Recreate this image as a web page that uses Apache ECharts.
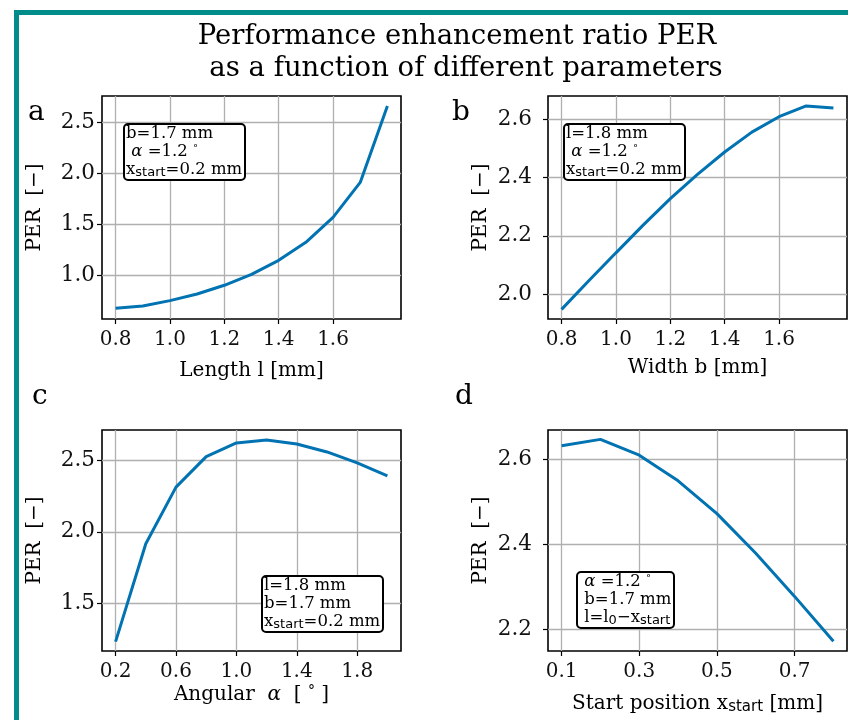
<!DOCTYPE html>
<html>
<head>
<meta charset="utf-8">
<script src="https://cdn.jsdelivr.net/npm/echarts@6/dist/echarts.min.js"></script>
<style>
html,body{margin:0;padding:0;background:#fff;}
#chart{width:848px;height:720px;}
</style>
</head>
<body>
<div id="chart"></div>
<script>
// ---- data ----
const lengthL = [0.8, 0.9, 1.0, 1.1, 1.2, 1.3, 1.4, 1.5, 1.6, 1.7, 1.8];
const perLength = [0.683, 0.705, 0.757, 0.822, 0.907, 1.014, 1.150, 1.326, 1.569, 1.910, 2.656];
const widthB = [0.8, 0.9, 1.0, 1.1, 1.2, 1.3, 1.4, 1.5, 1.6, 1.7, 1.8];
const perWidth = [1.948, 2.046, 2.142, 2.237, 2.328, 2.411, 2.488, 2.556, 2.609, 2.646, 2.639];
const angleA = [0.2, 0.4, 0.6, 0.8, 1.0, 1.2, 1.4, 1.6, 1.8, 2.0];
const perAngle = [1.230, 1.917, 2.314, 2.528, 2.624, 2.645, 2.617, 2.561, 2.484, 2.393];
const startX = [0.1, 0.2, 0.3, 0.4, 0.5, 0.6, 0.7, 0.8];
const perStart = [2.631, 2.646, 2.609, 2.549, 2.472, 2.379, 2.278, 2.173];

// ---- tick labels ----
const ticksLenX = [0.8, 1.0, 1.2, 1.4, 1.6];
const ticksLenY = [1.0, 1.5, 2.0, 2.5];
const ticksWidX = [0.8, 1.0, 1.2, 1.4, 1.6];
const ticksWidY = [2.0, 2.2, 2.4, 2.6];
const ticksAngX = [0.2, 0.6, 1.0, 1.4, 1.8];
const ticksAngY = [1.5, 2.0, 2.5];
const ticksStartX = [0.1, 0.3, 0.5, 0.7];
const ticksStartY = [2.2, 2.4, 2.6];

const LINE = '#0173b2';
const SERIF = '"DejaVu Serif", "Liberation Serif", serif';
const SANS = '"DejaVu Sans", sans-serif';

const grids = [
  {left: 102, top: 96, width: 299, height: 223},
  {left: 548, top: 96, width: 299, height: 223},
  {left: 102, top: 430, width: 299, height: 221},
  {left: 548, top: 430, width: 299, height: 221}
].map(g => Object.assign(g, {show: true, borderColor: '#000', borderWidth: 1.6, backgroundColor: 'transparent', containLabel: false, outerBoundsMode: 'none'}));

const nameRich = {
  s: {fontFamily: SANS, fontSize: 15, lineHeight: 15, verticalAlign: 'bottom', color: '#000'},
  i: {fontFamily: SERIF, fontStyle: 'italic', fontSize: 20, color: '#000'},
  d: {fontFamily: SERIF, fontSize: 14, verticalAlign: 'top', color: '#000'}
};

function xAxis(idx, min, max, ticks, name, gap) {
  return {
    type: 'value', gridIndex: idx, min: min, max: max,
    name: name, nameLocation: 'middle', nameGap: gap, nameMoveOverlap: false,
    nameTextStyle: {fontFamily: SERIF, fontSize: 20, color: '#000', lineHeight: 22, rich: nameRich},
    axisLine: {show: false},
    axisTick: {show: true, inside: false, length: 5, customValues: ticks, lineStyle: {color: '#000', width: 1.2}},
    axisLabel: {show: true, customValues: ticks, margin: 11, fontFamily: SERIF, fontSize: 20, color: '#111',
      formatter: v => Number(v).toFixed(1)},
    splitLine: {show: true, lineStyle: {color: '#b0b0b0', width: 1.3}}
  };
}
function yAxis(idx, min, max, ticks, margin) {
  return {
    type: 'value', gridIndex: idx, min: min, max: max,
    name: 'PER  [\u2212]', nameLocation: 'middle', nameRotate: 90, nameGap: 56, nameMoveOverlap: false,
    nameTextStyle: {fontFamily: SERIF, fontSize: 20, color: '#000', lineHeight: 22},
    axisLine: {show: false},
    axisTick: {show: true, inside: false, length: 5, customValues: ticks, lineStyle: {color: '#000', width: 1.2}},
    axisLabel: {show: true, customValues: ticks, margin: margin, fontFamily: SERIF, fontSize: 21.5, color: '#111',
      formatter: v => Number(v).toFixed(1)},
    splitLine: {show: true, lineStyle: {color: '#b0b0b0', width: 1.3}}
  };
}

const boxRich = {
  s: {fontFamily: SANS, fontSize: 13, lineHeight: 13, verticalAlign: 'bottom', color: '#000'},
  i: {fontFamily: SERIF, fontStyle: 'italic', fontSize: 16.5, lineHeight: 18, color: '#000'},
  d: {fontFamily: SERIF, fontSize: 10, lineHeight: 10, verticalAlign: 'top', color: '#000'},
  t: {fontFamily: SERIF, fontSize: 16.5, lineHeight: 18, color: '#000'}
};
function box(text, left, top) {
  return {
    text: text, left: left, top: top, padding: [1, 3, 1, 2],
    borderColor: '#000', borderWidth: 2, borderRadius: 4, backgroundColor: '#fff',
    textStyle: {fontFamily: SERIF, fontSize: 16.5, fontWeight: 'normal', lineHeight: 18, color: '#000', rich: boxRich}
  };
}

function mk(xs, ys) { return xs.map((x, i) => [x, ys[i]]); }

const chart = echarts.init(document.getElementById('chart'), null, {renderer: 'canvas'});
chart.setOption({
  animation: false,
  backgroundColor: '#fff',
  title: [
    box('{t|b=1.7 mm}\n{t| }{i|\u03b1}{t| =1.2 }{d|\u00b0}\n{t|x}{s|start}{t|=0.2 mm}', 124, 124),
    box('{t|l=1.8 mm}\n{t| }{i|\u03b1}{t| =1.2 }{d|\u00b0}\n{t|x}{s|start}{t|=0.2 mm}', 564, 124),
    box('{t|l=1.8 mm}\n{t|b=1.7 mm}\n{t|x}{s|start}{t|=0.2 mm}', 262, 576),
    box('{t| }{i|\u03b1}{t| =1.2 }{d|\u00b0}\n{t| b=1.7 mm}\n{t| l=l}{s|0}{t|\u2212x}{s|start}', 577, 572)
  ],
  graphic: [
    {type: 'rect', silent: true, z: 100, shape: {x: 16.5, y: 12.5, width: 1200, height: 1200},
      style: {fill: 'none', stroke: '#008c88', lineWidth: 5}},
    {type: 'text', x: 457, y: 36.5, style: {text: 'Performance enhancement ratio PER', fontFamily: SERIF, fontSize: 27.5, align: 'center', verticalAlign: 'middle', fill: '#000'}},
    {type: 'text', x: 466, y: 68.5, style: {text: 'as a function of different parameters', fontFamily: SERIF, fontSize: 27.5, align: 'center', verticalAlign: 'middle', fill: '#000'}},
    {type: 'text', x: 28, y: 113, style: {text: 'a', fontFamily: SERIF, fontSize: 28, align: 'left', verticalAlign: 'middle', fill: '#000'}},
    {type: 'text', x: 452, y: 113, style: {text: 'b', fontFamily: SERIF, fontSize: 28, align: 'left', verticalAlign: 'middle', fill: '#000'}},
    {type: 'text', x: 32, y: 397, style: {text: 'c', fontFamily: SERIF, fontSize: 28, align: 'left', verticalAlign: 'middle', fill: '#000'}},
    {type: 'text', x: 455, y: 397, style: {text: 'd', fontFamily: SERIF, fontSize: 28, align: 'left', verticalAlign: 'middle', fill: '#000'}}
  ],
  grid: grids,
  xAxis: [
    xAxis(0, 0.75, 1.85, ticksLenX, 'Length l [mm]', 41),
    xAxis(1, 0.75, 1.85, ticksWidX, 'Width b [mm]', 38),
    xAxis(2, 0.11, 2.09, ticksAngX, 'Angular  {i|\u03b1}  [ {d|\u00b0} ]', 33),
    xAxis(3, 0.065, 0.835, ticksStartX, 'Start position x{s|start} [mm]', 42)
  ],
  yAxis: [
    yAxis(0, 0.578, 2.753, ticksLenY, 7),
    yAxis(1, 1.915, 2.680, ticksWidY, 16),
    yAxis(2, 1.164, 2.715, ticksAngY, 7),
    yAxis(3, 2.150, 2.668, ticksStartY, 16)
  ],
  series: [
    {type: 'line', xAxisIndex: 0, yAxisIndex: 0, data: mk(lengthL, perLength)},
    {type: 'line', xAxisIndex: 1, yAxisIndex: 1, data: mk(widthB, perWidth)},
    {type: 'line', xAxisIndex: 2, yAxisIndex: 2, data: mk(angleA, perAngle)},
    {type: 'line', xAxisIndex: 3, yAxisIndex: 3, data: mk(startX, perStart)}
  ].map(s => Object.assign(s, {symbol: 'none', lineStyle: {color: LINE, width: 3}, z: 3}))
});
</script>
</body>
</html>
